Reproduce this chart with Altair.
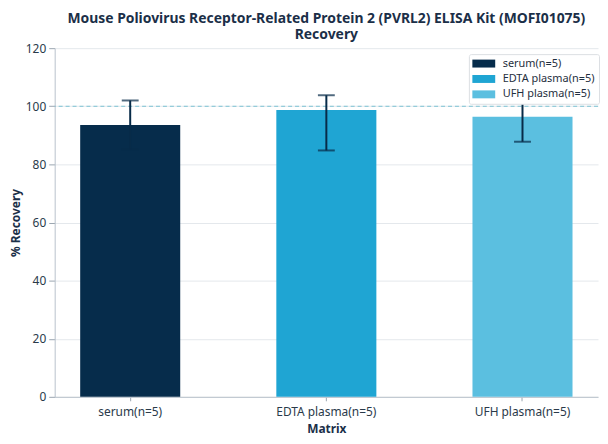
import altair as alt
import pandas as pd

categories = ["serum(n=5)", "EDTA plasma(n=5)", "UFH plasma(n=5)"]
recovery = [93.6, 98.7, 96.4]
err_low = [85.2, 84.8, 87.8]
err_high = [102.0, 103.8, 105.0]
colors = ["#062c4b", "#1fa5d3", "#5bbfe0"]
y_ticks = [0, 20, 40, 60, 80, 100, 120]
reference = [100]

df = pd.DataFrame({
    "Matrix": categories,
    "Recovery": recovery,
    "low": err_low,
    "high": err_high,
})
ref_df = pd.DataFrame({"ref": reference})

FONT = "Noto Sans"
NAVY = "#1b2f48"
ERR = "#072b48"

x_enc = alt.X(
    "Matrix:N",
    sort=categories,
    scale=alt.Scale(paddingInner=0.49, paddingOuter=0.13),
    axis=alt.Axis(title="Matrix", labelAngle=0),
)

bars = alt.Chart(df).mark_bar().encode(
    x=x_enc,
    y=alt.Y(
        "Recovery:Q",
        scale=alt.Scale(domain=[0, 120], nice=False),
        axis=alt.Axis(title="% Recovery", values=y_ticks),
    ),
    color=alt.Color(
        "Matrix:N",
        sort=categories,
        scale=alt.Scale(domain=categories, range=colors),
        legend=alt.Legend(
            title=None,
            orient="none",
            legendX=417,
            legendY=6,
            padding=4,
            fillColor="white",
            strokeColor="#dcdfe3",
            cornerRadius=2,
            symbolType="M-2.3,-0.8H2.3V0.8H-2.3Z",
            symbolSize=100,
            symbolStrokeWidth=0,
            symbolOffset=5.5,
            labelOffset=13.5,
            labelFontSize=11,
            labelFont=FONT,
            labelColor="#1f2f40",
            rowPadding=3.5,
            labelLimit=300,
        ),
    ),
)

rule_ref = alt.Chart(ref_df).mark_rule(
    color="#7cc3d4", strokeDash=[4, 3], strokeWidth=1
).encode(y=alt.Y("ref:Q"))

err_rule = alt.Chart(df).mark_rule(color=ERR, strokeWidth=2).encode(
    x=alt.X("Matrix:N", sort=categories),
    y="low:Q",
    y2="high:Q",
)
cap_low = alt.Chart(df).mark_tick(color=ERR, thickness=2, size=17).encode(
    x=alt.X("Matrix:N", sort=categories), y="low:Q"
)
cap_high = alt.Chart(df).mark_tick(color=ERR, thickness=2, size=17).encode(
    x=alt.X("Matrix:N", sort=categories), y="high:Q"
)

chart = alt.layer(bars, rule_ref, err_rule, cap_low, cap_high).properties(
    width=547,
    height=351,
    padding={"left": 1, "top": 3, "right": 0, "bottom": 0},
    title=alt.TitleParams(
        text=[
            "Mouse Poliovirus Receptor-Related Protein 2 (PVRL2) ELISA Kit (MOFI01075)",
            "Recovery",
        ],
        fontSize=14,
        fontWeight="bold",
        font=FONT,
        color=NAVY,
        anchor="middle",
        lineHeight=16,
        offset=0,
    ),
).configure_view(stroke=None).configure_axis(
    labelFont=FONT,
    titleFont=FONT,
    labelFontSize=12,
    titleFontSize=12,
    labelColor="#2a3a4a",
    titleColor=NAVY,
    titleFontWeight="bold",
    domainColor="#b8c2cc",
    tickColor="#9aa5b0",
    gridColor="#e4e8ec",
).configure_axisY(
    tickSize=6,
    labelPadding=3,
    titlePadding=3,
    grid=True,
).configure_axisX(
    tickSize=4,
    labelPadding=6,
    titlePadding=6,
    grid=False,
)

chart.save("out.html", embed_options={"renderer": "svg", "actions": False})
